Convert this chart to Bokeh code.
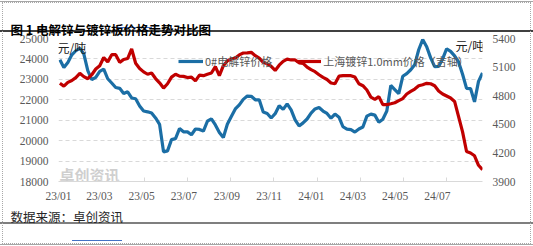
import pandas as pd
from datetime import datetime, timedelta
from bokeh.plotting import figure
from bokeh.models import (Range1d, LinearAxis, FixedTicker, Label, Legend, LegendItem,
                          DatetimeTickFormatter, Title)
from bokeh.embed import file_html
from bokeh.resources import INLINE

# ---------------- data ----------------
dates = pd.date_range("2023-01-03", "2024-09-04", periods=107)

zinc = [23960, 23580, 23830, 24200, 24400, 24520, 24250, 23430, 22990, 23100,
        23390, 23500, 23030, 22820, 22600, 22560, 22310, 22390, 22090, 22050,
        21700, 21450, 21410, 21350, 21110, 20800, 19450, 19500, 20050, 20100,
        20590, 20430, 20430, 20290, 20570, 20550, 20470, 20950, 21070, 20770,
        20400, 20150, 20800, 21180, 21550, 21750, 22020, 22180, 22170, 22000,
        22000, 21400, 21330, 21110, 21320, 21710, 21530, 21800, 21510, 21020,
        20720, 20870, 21060, 21350, 21550, 21620, 21450, 21330, 21100, 21300,
        21150, 20680, 20560, 20540, 20420, 20570, 20670, 21200, 21300, 21250,
        20900, 21050, 21450, 22700, 22500, 22300, 23150, 23280, 23470, 23720,
        24450, 24950, 24600, 24050, 23620, 23630, 24000, 24500, 24370, 24150,
        23850, 23250, 22560, 22550, 21900, 22900, 23310]

galv = [4930, 4900, 4940, 4960, 4990, 5035, 5000, 4978, 5020, 5080,
        5115, 5200, 5155, 5230, 5230, 5150, 5180, 5190, 5290, 5140,
        5085, 5050, 5025, 5038, 4980, 4935, 4880, 4925, 4995, 5025,
        5005, 5003, 4990, 4995, 4955, 5015, 5010, 5025, 5038, 5105,
        5010, 5115, 5165, 5185, 5195, 5228, 5248, 5250, 5255, 5220,
        5195, 5150, 5135, 5108, 5065, 5120, 5160, 5183, 5175, 5175,
        5145, 5140, 5100, 5073, 5052, 5020, 4992, 4970, 4933, 4925,
        5005, 5010, 5010, 5010, 4995, 4925, 4905, 4860, 4785, 4762,
        4790, 4706, 4706, 4715, 4726, 4748, 4770, 4818, 4845, 4870,
        4905, 4915, 4930, 4925, 4905, 4850, 4818, 4797, 4776, 4740,
        4580, 4420, 4215, 4199, 4170, 4070, 4024]

x_tick_dates = ["2023-01-01", "2023-03-01", "2023-05-01", "2023-07-01", "2023-09-01",
                "2023-11-01", "2024-01-01", "2024-03-01", "2024-05-01", "2024-07-01"]
left_ticks = [18000, 19000, 20000, 21000, 22000, 23000, 24000, 25000]
right_ticks = [3900, 4200, 4500, 4800, 5100, 5400]

series_names = ["0#电解锌价格", "上海镀锌1.0mm价格（吉轴）"]
title_text = "图 1  电解锌与镀锌板价格走势对比图"
source_text = "数据来源：卓创资讯"
unit_text = "元/吨"
watermark_text = "卓创资讯"

# ---------------- layout constants ----------------
W, H = 533, 246
FL, FR = 58, 482                      # frame left/right (canvas px)
FT, FB = 38, 181                      # frame top/bottom (canvas px)

BLUE = "#1B6EA5"
RED = "#C00000"
GRID = "#D9D9D9"
TICKTXT = "#595959"
CJK = "Noto Sans CJK SC"
SERIF = "Liberation Serif"


def ms(d):
    return pd.Timestamp(d).value / 1e6


page_css = {
    "outline": "1px dotted #A8A8A8",
    "outline-offset": "-3px",
    "background-color": "white",
    "background-image": ", ".join(["linear-gradient(%s,%s)" % (c, c) for c in
                                   ["#A6A6A6", "#404040", "#7F7F7F", "#A6A6A6",
                                    "#4472C4", "#4472C4"]]),
    "background-size": "100% 1px, 100% 2px, 100% 2px, 100% 1px, 39px 1px, 50px 1px",
    "background-position": "0 1px, 0 30px, 0 222px, 0 244px, 113px 27px, 72px 240px",
    "background-repeat": "no-repeat",
}

p = figure(width=W, height=H, output_backend="svg", toolbar_location=None,
           x_axis_type="datetime",
           x_range=Range1d(datetime(2023, 1, 1), datetime(2024, 9, 4)),
           y_range=Range1d(18000, 25000),
           min_border_left=FL, min_border_right=W - FR,
           min_border_top=FT, min_border_bottom=H - FB,
           styles=page_css)
p.outline_line_color = None
p.background_fill_color = "white"
p.border_fill_alpha = 0
p.extra_y_ranges = {"r": Range1d(3900, 5400)}

p.xgrid.visible = False
p.ygrid.grid_line_color = GRID
p.ygrid.grid_line_dash = "4 3"
p.ygrid.grid_line_width = 1

minor = [ms(datetime(2023, 1, 1) + timedelta(days=62.2 * k)) for k in range(1, 10)]
p.xaxis.ticker = FixedTicker(ticks=[ms(d) for d in x_tick_dates], minor_ticks=minor)
p.xaxis.formatter = DatetimeTickFormatter(days="%y/%m", months="%y/%m", years="%y/%m")
p.xaxis.axis_line_color = GRID
p.xaxis.major_tick_line_color = None
p.xaxis.major_tick_in = 0
p.xaxis.major_tick_out = 0
p.xaxis.minor_tick_line_color = GRID
p.xaxis.minor_tick_in = 4
p.xaxis.minor_tick_out = 0
p.xaxis.major_label_standoff = 8
p.xaxis.major_label_text_font = SERIF
p.xaxis.major_label_text_font_size = "11.5px"
p.xaxis.major_label_text_color = TICKTXT

p.yaxis.ticker = FixedTicker(ticks=left_ticks)
p.yaxis.axis_line_color = None
p.yaxis.major_tick_line_color = None
p.yaxis.major_tick_in = 0
p.yaxis.major_tick_out = 0
p.yaxis.minor_tick_line_color = None
p.yaxis.major_label_standoff = 10
p.yaxis.major_label_text_font = SERIF
p.yaxis.major_label_text_font_size = "11.5px"
p.yaxis.major_label_text_color = TICKTXT

ra = LinearAxis(y_range_name="r", ticker=FixedTicker(ticks=right_ticks))
ra.axis_line_color = None
ra.major_tick_line_color = None
ra.major_tick_in = 0
ra.major_tick_out = 0
ra.minor_tick_line_color = None
ra.major_label_standoff = 10
ra.major_label_text_font = SERIF
ra.major_label_text_font_size = "11.5px"
ra.major_label_text_color = TICKTXT
p.add_layout(ra, "right")

# title (above) and source (below) as panel titles, which are not clipped;
# invisible spacer titles (added last, so nearest the frame) set their heights
p.add_layout(Title(text=title_text, align="left", offset=10 - FL, standoff=0,
                   text_font=CJK, text_font_size="12.5px", text_font_style="bold",
                   text_color="#000000"), "above")
p.add_layout(Title(text=".", text_alpha=0, text_font_size="4px", standoff=3), "above")
p.add_layout(Title(text=source_text, align="left", offset=10 - FL, standoff=0,
                   text_font=CJK, text_font_size="12.5px", text_font_style="normal",
                   text_color="#262626"), "below")
p.add_layout(Title(text=".", text_alpha=0, text_font=CJK, text_font_size="9px",
                   standoff=0), "below")


def lab(text, cx, cy, size, color, bold=False, font=CJK, level="annotation"):
    return Label(x=cx - FL, y=FB - cy, x_units="screen", y_units="screen",
                 text=text, text_font=font, text_font_size=size,
                 text_color=color, text_baseline="middle", text_align="left",
                 text_font_style="bold" if bold else "normal", level=level)


# watermark (inside frame)
p.add_layout(lab(watermark_text, 59, 174, "15px", "#CFCFCF", bold=True, level="underlay"))

r1 = p.line(dates, zinc, color=BLUE, line_width=3.2)
r2 = p.line(dates, galv, y_range_name="r", color=RED, line_width=3.2)

legend = Legend(items=[LegendItem(label=series_names[0], renderers=[r1]),
                       LegendItem(label=series_names[1], renderers=[r2])],
                location=(120, 110), orientation="horizontal",
                border_line_color=None, background_fill_alpha=0,
                padding=0, margin=0, spacing=24, glyph_width=25, glyph_height=20,
                label_standoff=2, label_text_font=CJK, label_text_font_size="11px",
                label_text_color=TICKTXT)
p.add_layout(legend)

p.add_layout(lab(unit_text, 57, 47, "12px", "#202020"))
p.add_layout(lab(unit_text, 455, 45, "12px", "#202020"))

open("out.html", "w").write(file_html(p, INLINE))
